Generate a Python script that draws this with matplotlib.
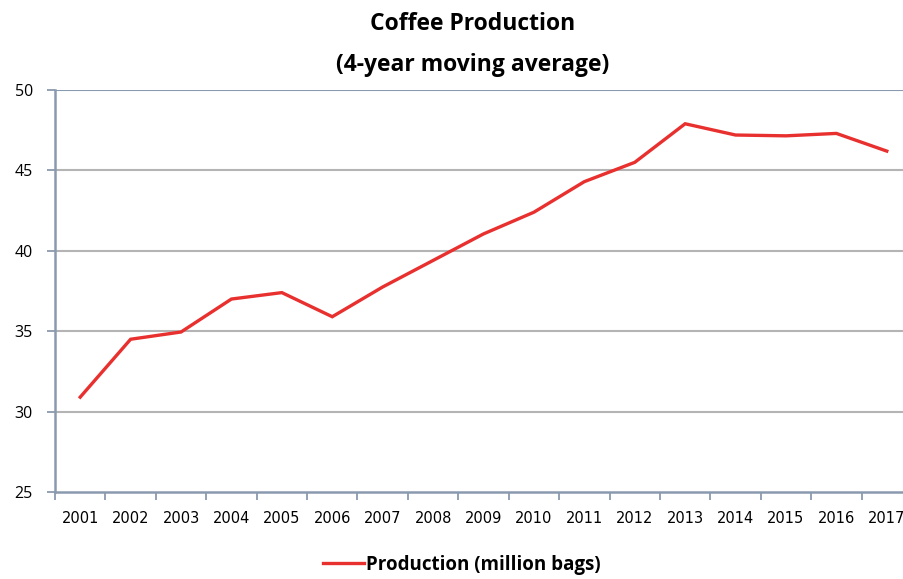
import matplotlib.pyplot as plt
from matplotlib.lines import Line2D

years = [str(y) for y in range(2001, 2018)]
production = [30.9, 34.5, 34.95, 37.0, 37.4, 35.9, 37.75, 39.4, 41.05,
              42.4, 44.3, 45.5, 47.9, 47.2, 47.15, 47.3, 46.2]
yticks = [25, 30, 35, 40, 45, 50]

spine_col = '#8a9aae'
grid_col = '#b4b4b4'
red = '#e8302f'

fig = plt.figure(figsize=(9.04, 5.79), dpi=100)
ax = fig.add_axes([55 / 904, 87 / 579, 857 / 904, 402 / 579])

x = list(range(len(years)))
ax.plot(x, production, color=red, linewidth=2.4, solid_joinstyle='miter')

ax.set_xlim(-0.5, len(years) - 0.5)
ax.set_ylim(25, 50)
ax.set_yticks(yticks)
ax.set_yticklabels([str(v) for v in yticks], fontsize=11.5, family='Open Sans')
ax.set_xticks([i + 0.5 for i in range(-1, len(years))], minor=False)
ax.set_xticklabels([''] * (len(years) + 1))
ax.set_xticks(x, minor=True)
ax.set_xticklabels(years, minor=True, fontsize=10.5, family='Liberation Sans Narrow')
ax.tick_params(axis='x', which='minor', length=0, pad=14)
ax.tick_params(axis='x', which='major', length=6, color=spine_col, width=1.3)
ax.tick_params(axis='y', length=6, color=spine_col, width=1.3, pad=10)

for v in yticks[1:]:
    ax.axhline(v, color=grid_col if v < 50 else spine_col, linewidth=1.5, zorder=0)

for s in ['top', 'right']:
    ax.spines[s].set_visible(False)
ax.spines['left'].set_color(spine_col)
ax.spines['bottom'].set_color(spine_col)
ax.spines['left'].set_linewidth(1.8)
ax.spines['bottom'].set_linewidth(1.8)

fig.text(0.523, 0.959, 'Coffee Production', ha='center', va='center',
         fontsize=16.5, fontweight='bold', family='Open Sans')
fig.text(0.523, 0.888, '(4-year moving average)', ha='center', va='center',
         fontsize=16.5, fontweight='bold', family='Open Sans')

fig.legend(handles=[Line2D([], [], color=red, linewidth=2.4)],
           labels=['Production (million bags)'], loc='center',
           bbox_to_anchor=(0.511, 0.025), frameon=False, handlelength=2.2,
           handletextpad=0.1, prop={'family': 'Open Sans', 'weight': 'bold', 'size': 13.5})

fig.savefig('out.png', dpi=100)
